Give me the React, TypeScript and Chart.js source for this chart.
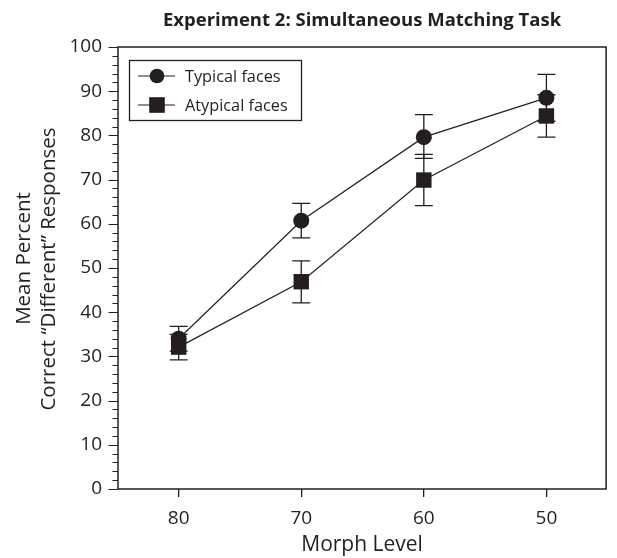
import React, { useEffect, useRef } from 'react';
import { Chart, registerables } from 'chart.js';

Chart.register(...registerables);

const chartTitle = 'Experiment 2: Simultaneous Matching Task';
const xAxisTitle = 'Morph Level';
const yAxisTitle = ['Mean Percent', 'Correct \u201CDifferent\u201D Responses'];
const morphLevels = [80, 70, 60, 50];
const seriesNames = ['Typical faces', 'Atypical faces'];
const typicalMeans = [34, 60.7, 79.6, 88.5];
const typicalUpper = [36.8, 64.6, 84.7, 93.8];
const typicalLower = [31.2, 56.8, 74.8, 83.2];
const atypicalMeans = [32.1, 46.9, 69.9, 84.4];
const atypicalUpper = [35, 51.6, 75.7, 89.2];
const atypicalLower = [29.2, 42.1, 64.1, 79.6];
const yMin = 0;
const yMax = 100;
const yMajorStep = 10;
const yMinorStep = 2;

const ink = '#231f20';
const fontFamily = "'Open Sans', 'Noto Sans', sans-serif";

const errorBarsPlugin = {
  id: 'errorBars',
  beforeDatasetsDraw(chart: any) {
    const { ctx, scales } = chart;
    const x = scales.x;
    const y = scales.y;
    ctx.save();
    ctx.strokeStyle = ink;
    ctx.lineWidth = 1.3;
    chart.data.datasets.forEach((ds: any) => {
      ds.data.forEach((pt: any, i: number) => {
        const px = x.getPixelForValue(pt.x);
        const pLo = y.getPixelForValue(ds.errLow[i]);
        const pHi = y.getPixelForValue(ds.errHigh[i]);
        const cap = 9;
        ctx.beginPath();
        ctx.moveTo(px, pLo);
        ctx.lineTo(px, pHi);
        ctx.moveTo(px - cap, pLo);
        ctx.lineTo(px + cap, pLo);
        ctx.moveTo(px - cap, pHi);
        ctx.lineTo(px + cap, pHi);
        ctx.stroke();
      });
    });
    ctx.restore();
  },
};

const framePlugin = {
  id: 'frame',
  afterDraw(chart: any) {
    const { ctx, chartArea, scales } = chart;
    const y = scales.y;
    ctx.save();
    ctx.strokeStyle = ink;
    ctx.lineWidth = 1.5;
    ctx.strokeRect(chartArea.left, chartArea.top, chartArea.right - chartArea.left, chartArea.bottom - chartArea.top);
    ctx.lineWidth = 1.2;
    ctx.beginPath();
    for (let v = yMin; v <= yMax + 1e-9; v += yMinorStep) {
      const py = Math.round(y.getPixelForValue(v)) + 0.5;
      const major = Math.abs(v / yMajorStep - Math.round(v / yMajorStep)) < 1e-6;
      const len = major ? 9.5 : 5.5;
      ctx.moveTo(chartArea.left - len, py);
      ctx.lineTo(chartArea.left, py);
    }
    ctx.stroke();

    // y-axis title, two lines, rotated
    ctx.fillStyle = ink;
    ctx.font = `20.5px ${fontFamily}`;
    ctx.textAlign = 'center';
    ctx.textBaseline = 'middle';
    const lineCenters = [
      { x: 24, y: 258.5 },
      { x: 49, y: 269 },
    ];
    yAxisTitle.forEach((line, i) => {
      ctx.save();
      ctx.translate(lineCenters[i].x, lineCenters[i].y);
      ctx.rotate(-Math.PI / 2);
      ctx.fillText(line, 0, 0);
      ctx.restore();
    });
    ctx.restore();
  },
};

const legendPlugin = {
  id: 'boxLegend',
  afterDraw(chart: any) {
    const { ctx } = chart;
    const left = 129;
    const top = 60;
    const w = 172;
    const h = 60;
    ctx.save();
    ctx.strokeStyle = ink;
    ctx.lineWidth = 1.3;
    ctx.strokeRect(left + 0.5, top + 0.5, w, h);
    chart.data.datasets.forEach((ds: any, i: number) => {
      const cy = top + 16 + i * 29;
      ctx.strokeStyle = ink;
      ctx.lineWidth = 1.2;
      ctx.beginPath();
      ctx.moveTo(left + 9, cy);
      ctx.lineTo(left + 46, cy);
      ctx.stroke();
      ctx.fillStyle = ink;
      const mx = left + 28;
      if (ds.pointStyle === 'circle') {
        ctx.beginPath();
        ctx.arc(mx, cy, 7.3, 0, Math.PI * 2);
        ctx.fill();
      } else {
        const s = 7.8;
        ctx.fillRect(mx - s, cy - s, 2 * s, 2 * s);
      }
      ctx.font = `16.3px ${fontFamily}`;
      ctx.textBaseline = 'middle';
      ctx.textAlign = 'left';
      ctx.fillText(ds.label, left + 56, cy + 1);
    });
    ctx.restore();
  },
};

export default function App() {
  const canvasRef = useRef<HTMLCanvasElement | null>(null);

  useEffect(() => {
    if (!canvasRef.current) return;
    const chart = new Chart(canvasRef.current, {
      type: 'line',
      data: {
        datasets: [
          {
            label: seriesNames[0],
            data: morphLevels.map((m, i) => ({ x: m, y: typicalMeans[i] })),
            errLow: typicalLower,
            errHigh: typicalUpper,
            borderColor: ink,
            borderWidth: 1.2,
            backgroundColor: ink,
            pointStyle: 'circle',
            pointRadius: 8,
            pointBorderWidth: 0,
            pointBackgroundColor: ink,
            tension: 0,
          } as any,
          {
            label: seriesNames[1],
            data: morphLevels.map((m, i) => ({ x: m, y: atypicalMeans[i] })),
            errLow: atypicalLower,
            errHigh: atypicalUpper,
            borderColor: ink,
            borderWidth: 1.2,
            backgroundColor: ink,
            pointStyle: 'rect',
            pointRadius: 10.9,
            pointBorderWidth: 0,
            pointBackgroundColor: ink,
            tension: 0,
          } as any,
        ],
      },
      options: {
        responsive: false,
        animation: false,
        events: [],
        layout: { padding: { left: 0, right: 6, top: 0, bottom: 0 } },
        plugins: {
          legend: { display: false },
          tooltip: { enabled: false },
          title: {
            display: true,
            text: chartTitle,
            color: ink,
            fullSize: false,
            font: { family: fontFamily, size: 18.5, weight: 'bold', lineHeight: 1.2 },
            padding: { top: 10, bottom: 14.8 },
          },
        },
        scales: {
          x: {
            type: 'linear',
            reverse: true,
            min: 45.13,
            max: 84.95,
            afterFit: (scale: any) => {
              scale.height = 69;
            },
            afterBuildTicks: (scale: any) => {
              scale.ticks = morphLevels.map((v) => ({ value: v }));
            },
            grid: {
              display: true,
              drawOnChartArea: false,
              drawTicks: true,
              tickLength: 8,
              color: ink,
              lineWidth: 1.3,
            },
            border: { display: false },
            ticks: {
              color: ink,
              padding: 10,
              font: { family: fontFamily, size: 19 },
              callback: (v: any) => String(v),
            },
            title: {
              display: true,
              text: xAxisTitle,
              color: ink,
              font: { family: fontFamily, size: 21, lineHeight: 1.2 },
              padding: { top: 0, bottom: 0 },
            },
          },
          y: {
            type: 'linear',
            min: yMin,
            max: yMax,
            afterFit: (scale: any) => {
              scale.width = 118;
            },
            grid: { display: false, drawTicks: false },
            border: { display: false },
            ticks: {
              stepSize: yMajorStep,
              color: ink,
              padding: 16,
              font: { family: fontFamily, size: 19 },
            },
            title: { display: false },
          },
        },
      },
      plugins: [errorBarsPlugin, framePlugin, legendPlugin],
    });
    return () => chart.destroy();
  }, []);

  return (
    <div style={{ position: 'absolute', left: 0, top: 0, width: 617, height: 558, background: '#fff' }}>
      <canvas ref={canvasRef} width={617} height={558} />
    </div>
  );
}
